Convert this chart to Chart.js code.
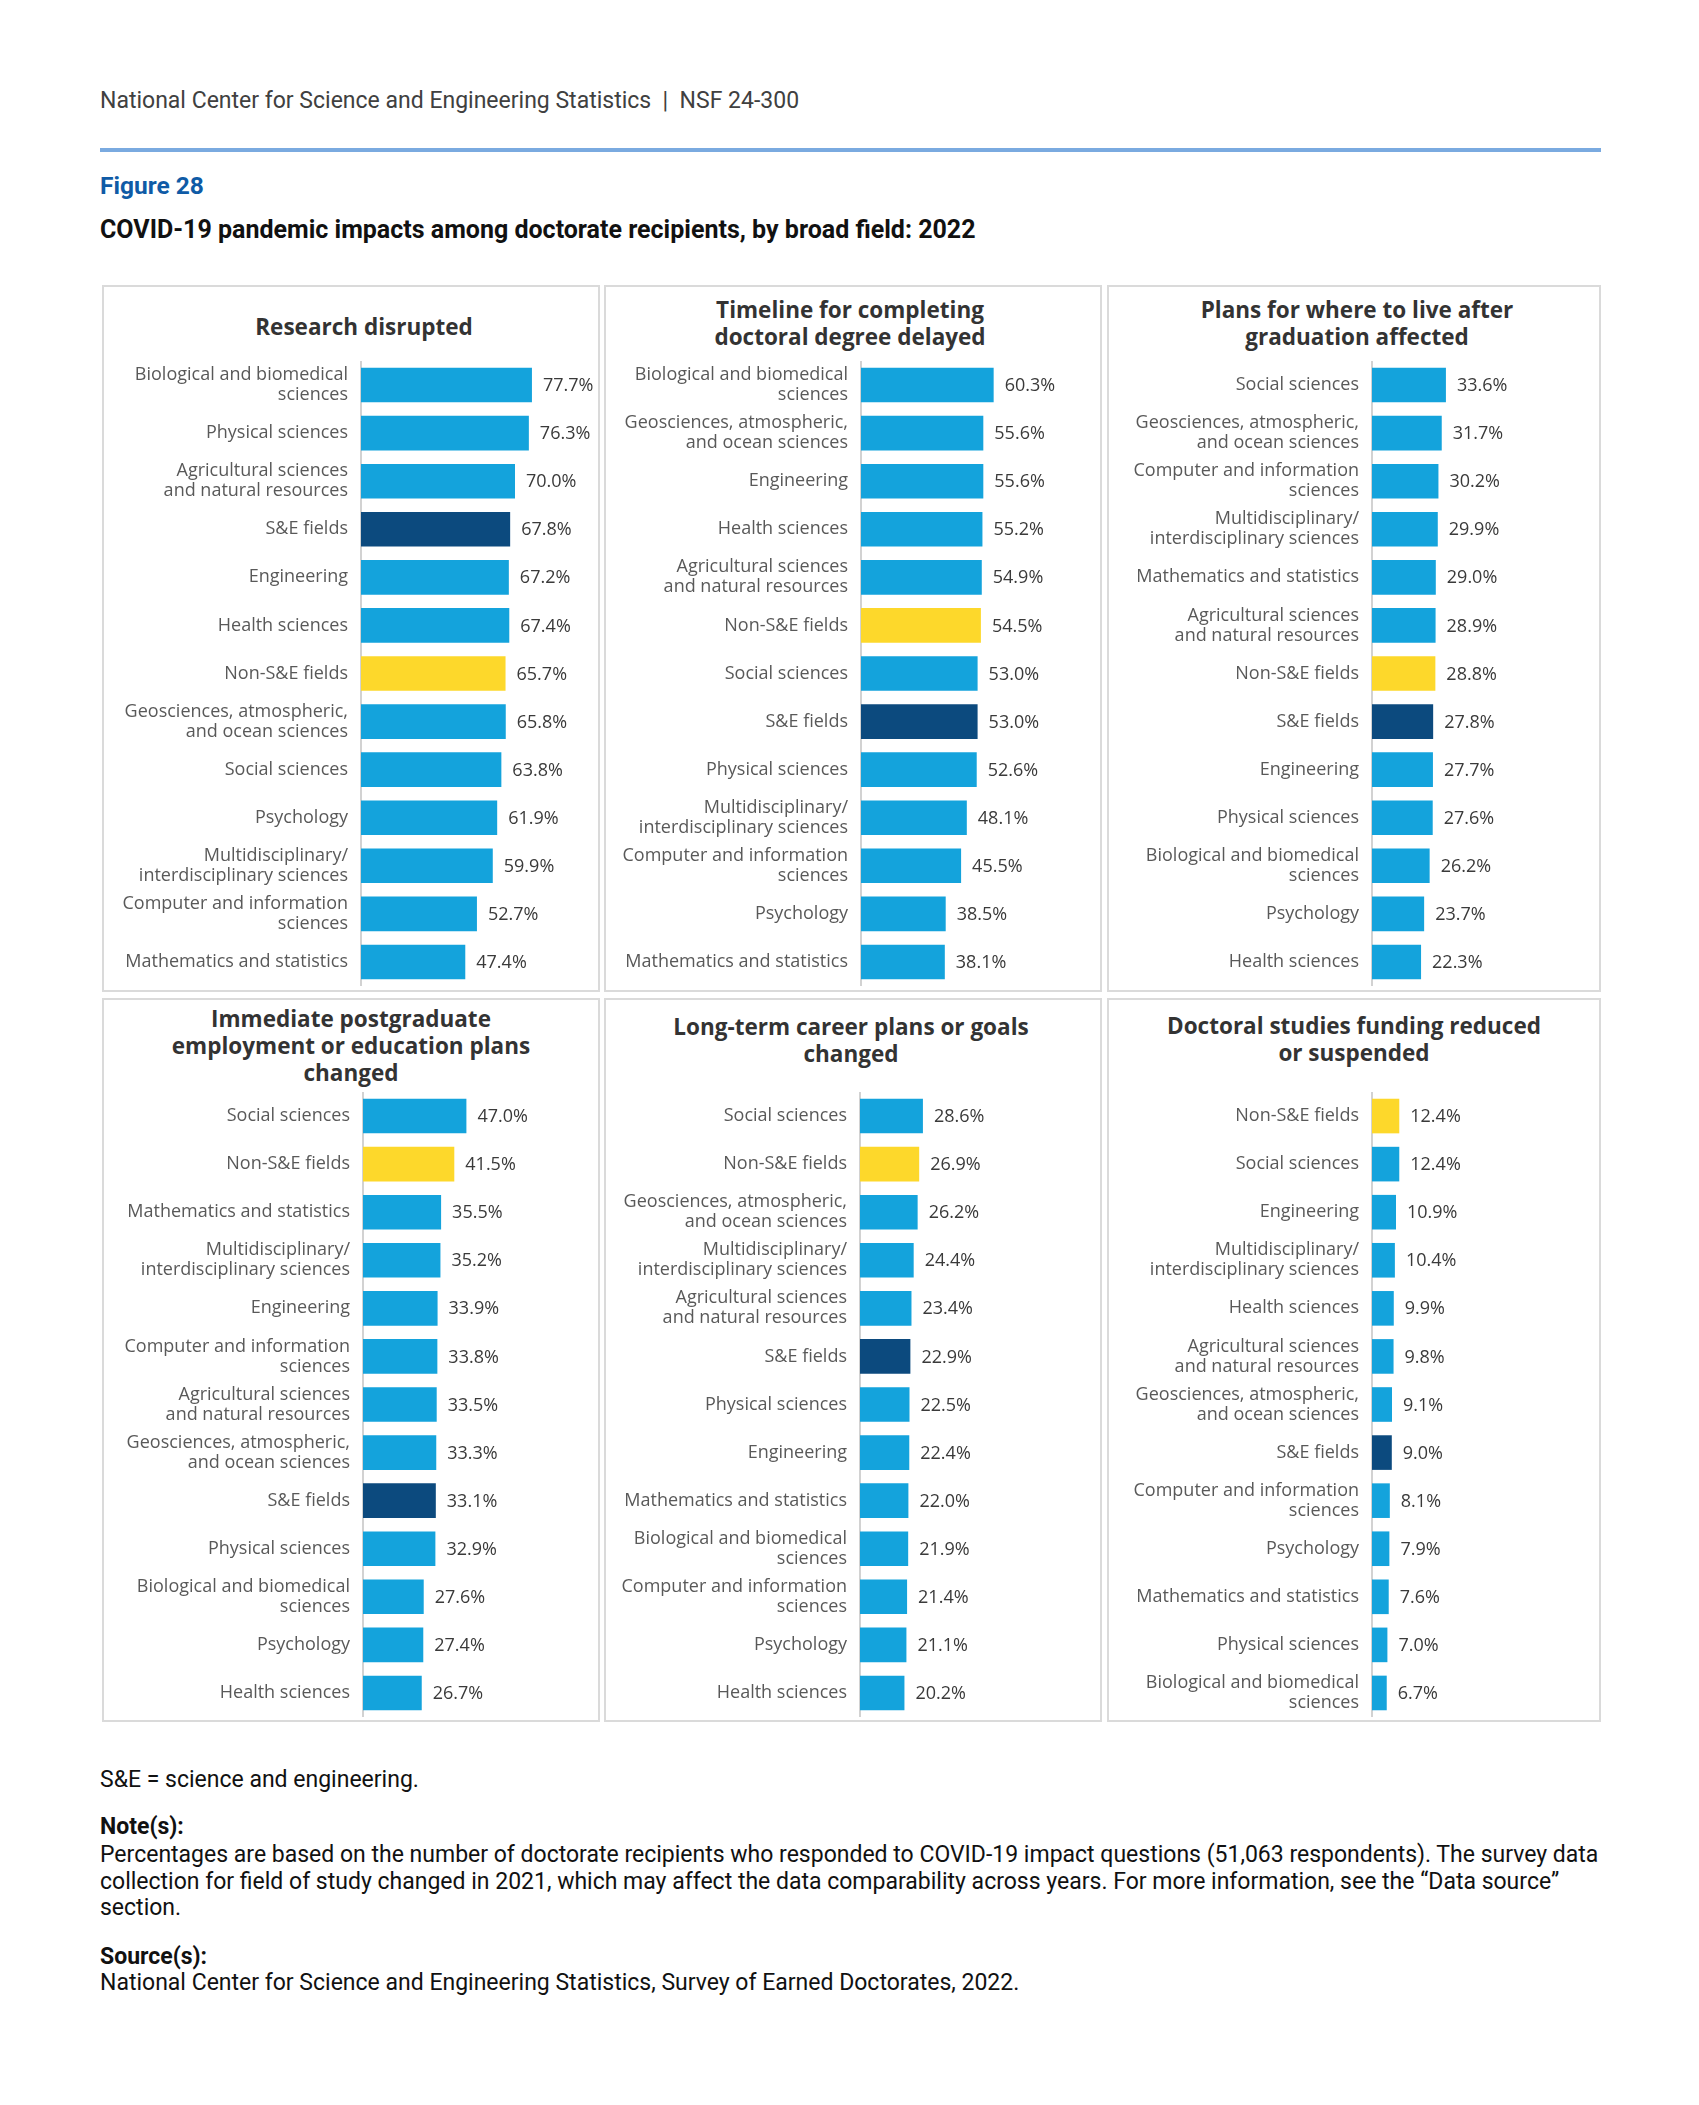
<!DOCTYPE html>
<html>
<head>
<meta charset="utf-8">
<title>Figure 28</title>
<script src="https://cdn.jsdelivr.net/npm/chart.js@4.4.1/dist/chart.umd.min.js"></script>
<style>
    body { margin: 0; background: #fff; width: 1699px; height: 2105px; position: relative; font-family: Roboto, sans-serif; }
    .abs { position: absolute; }
    .header { left: 100px; top: 88px; font-size: 23px; line-height: 26px; color: #404040; white-space: nowrap; }
    .rule { left: 100px; top: 148px; width: 1501px; height: 4px; background: #7aaae0; }
    .fig { left: 100px; top: 171px; font-size: 24.5px; line-height: 30px; font-weight: bold; color: #0f5ba6; }
    .title { left: 100px; top: 215px; font-size: 25px; line-height: 30px; font-weight: bold; color: #111; white-space: nowrap; }
    .panel { box-sizing: border-box; border: 2px solid #dadada; }
    .ptitle { width: 500px; font-family: 'Open Sans', sans-serif; font-weight: bold; font-size: 22.5px; line-height: 27px; color: #333; text-align: center; white-space: nowrap; }
    canvas { position: absolute; }
    .foot { left: 100px; font-size: 23px; line-height: 26.5px; color: #111; white-space: nowrap; }
    .foot b { font-weight: bold; }
</style>
</head>
<body>

<div class="abs header">National Center for Science and Engineering Statistics &nbsp;|&nbsp; NSF 24-300</div>
<div class="abs rule"></div>
<div class="abs fig">Figure 28</div>
<div class="abs title">COVID-19 pandemic impacts among doctorate recipients, by broad field: 2022</div>

<div class="abs panel" style="left:102px; top:285px; width:498px; height:707px;"></div>
<div class="abs panel" style="left:604px; top:285px; width:498px; height:707px;"></div>
<div class="abs panel" style="left:1107px; top:285px; width:494px; height:707px;"></div>
<div class="abs panel" style="left:102px; top:998px; width:498px; height:724px;"></div>
<div class="abs panel" style="left:604px; top:998px; width:498px; height:724px;"></div>
<div class="abs panel" style="left:1107px; top:998px; width:494px; height:724px;"></div>

<div class="abs ptitle" style="left:114px; top:313px;">Research disrupted</div>
<div class="abs ptitle" style="left:600px; top:296px;">Timeline for completing<br>doctoral degree delayed</div>
<div class="abs ptitle" style="left:1107px; top:296px;">Plans for where to live after<br>graduation affected</div>
<div class="abs ptitle" style="left:101px; top:1005px;">Immediate postgraduate<br>employment or education plans<br>changed</div>
<div class="abs ptitle" style="left:601px; top:1013px;">Long-term career plans or goals<br>changed</div>
<div class="abs ptitle" style="left:1104px; top:1012px;">Doctoral studies funding reduced<br>or suspended</div>

<canvas id="chart1" width="490" height="625" style="left:106px; top:361px;"></canvas>
<canvas id="chart2" width="490" height="625" style="left:608px; top:361px;"></canvas>
<canvas id="chart3" width="486" height="625" style="left:1111px; top:361px;"></canvas>
<canvas id="chart4" width="490" height="625" style="left:106px; top:1092px;"></canvas>
<canvas id="chart5" width="490" height="625" style="left:608px; top:1092px;"></canvas>
<canvas id="chart6" width="486" height="625" style="left:1111px; top:1092px;"></canvas>

<div class="abs foot" style="top:1767px;">S&amp;E = science and engineering.</div>
<div class="abs foot" style="top:1814px;"><b>Note(s):</b></div>
<div class="abs foot" style="top:1842px;">Percentages are based on the number of doctorate recipients who responded to COVID-19 impact questions (51,063 respondents). The survey data<br>collection for field of study changed in 2021, which may affect the data comparability across years. For more information, see the “Data source”<br>section.</div>
<div class="abs foot" style="top:1944px;"><b>Source(s):</b></div>
<div class="abs foot" style="top:1970px;">National Center for Science and Engineering Statistics, Survey of Earned Doctorates, 2022.</div>

<script>
// labels use \n where the original breaks the line
const researchFields = ['Biological and biomedical\nsciences', 'Physical sciences', 'Agricultural sciences\nand natural resources', 'S&E fields', 'Engineering', 'Health sciences', 'Non-S&E fields', 'Geosciences, atmospheric,\nand ocean sciences', 'Social sciences', 'Psychology', 'Multidisciplinary/\ninterdisciplinary sciences', 'Computer and information\nsciences', 'Mathematics and statistics'];
const researchValues = [77.7, 76.3, 70.0, 67.8, 67.2, 67.4, 65.7, 65.8, 63.8, 61.9, 59.9, 52.7, 47.4];

const timelineFields = ['Biological and biomedical\nsciences', 'Geosciences, atmospheric,\nand ocean sciences', 'Engineering', 'Health sciences', 'Agricultural sciences\nand natural resources', 'Non-S&E fields', 'Social sciences', 'S&E fields', 'Physical sciences', 'Multidisciplinary/\ninterdisciplinary sciences', 'Computer and information\nsciences', 'Psychology', 'Mathematics and statistics'];
const timelineValues = [60.3, 55.6, 55.6, 55.2, 54.9, 54.5, 53.0, 53.0, 52.6, 48.1, 45.5, 38.5, 38.1];

const liveFields = ['Social sciences', 'Geosciences, atmospheric,\nand ocean sciences', 'Computer and information\nsciences', 'Multidisciplinary/\ninterdisciplinary sciences', 'Mathematics and statistics', 'Agricultural sciences\nand natural resources', 'Non-S&E fields', 'S&E fields', 'Engineering', 'Physical sciences', 'Biological and biomedical\nsciences', 'Psychology', 'Health sciences'];
const liveValues = [33.6, 31.7, 30.2, 29.9, 29.0, 28.9, 28.8, 27.8, 27.7, 27.6, 26.2, 23.7, 22.3];

const plansFields = ['Social sciences', 'Non-S&E fields', 'Mathematics and statistics', 'Multidisciplinary/\ninterdisciplinary sciences', 'Engineering', 'Computer and information\nsciences', 'Agricultural sciences\nand natural resources', 'Geosciences, atmospheric,\nand ocean sciences', 'S&E fields', 'Physical sciences', 'Biological and biomedical\nsciences', 'Psychology', 'Health sciences'];
const plansValues = [47.0, 41.5, 35.5, 35.2, 33.9, 33.8, 33.5, 33.3, 33.1, 32.9, 27.6, 27.4, 26.7];

const careerFields = ['Social sciences', 'Non-S&E fields', 'Geosciences, atmospheric,\nand ocean sciences', 'Multidisciplinary/\ninterdisciplinary sciences', 'Agricultural sciences\nand natural resources', 'S&E fields', 'Physical sciences', 'Engineering', 'Mathematics and statistics', 'Biological and biomedical\nsciences', 'Computer and information\nsciences', 'Psychology', 'Health sciences'];
const careerValues = [28.6, 26.9, 26.2, 24.4, 23.4, 22.9, 22.5, 22.4, 22.0, 21.9, 21.4, 21.1, 20.2];

const fundingFields = ['Non-S&E fields', 'Social sciences', 'Engineering', 'Multidisciplinary/\ninterdisciplinary sciences', 'Health sciences', 'Agricultural sciences\nand natural resources', 'Geosciences, atmospheric,\nand ocean sciences', 'S&E fields', 'Computer and information\nsciences', 'Psychology', 'Mathematics and statistics', 'Physical sciences', 'Biological and biomedical\nsciences'];
const fundingValues = [12.4, 12.4, 10.9, 10.4, 9.9, 9.8, 9.1, 9.0, 8.1, 7.9, 7.6, 7.0, 6.7];

const BLUE = '#14a3dc';
const NAVY = '#0c4a7e';
const YELLOW = '#fdd82b';

function barColor(field) {
    if (field === 'S&E fields') return NAVY;
    if (field === 'Non-S&E fields') return YELLOW;
    return BLUE;
}

const valueLabels = {
    id: 'valueLabels',
    afterDatasetsDraw(chart) {
        const ctx = chart.ctx;
        const values = chart.data.datasets[0].data;
        ctx.save();
        ctx.font = '18px "Open Sans"';
        ctx.fillStyle = '#3a3a3a';
        ctx.textBaseline = 'middle';
        chart.getDatasetMeta(0).data.forEach((bar, i) => {
            ctx.fillText(values[i].toFixed(1) + '%', bar.x + 11, bar.y + 1);
        });
        ctx.restore();
    }
};

function drawPanel(id, fields, values, axisX) {
    const canvas = document.getElementById(id);
    const left = parseFloat(canvas.style.left);
    const axisWidth = axisX - left;
    const plotWidth = 220; // 0-100 %

    new Chart(canvas, {
        type: 'bar',
        data: {
            labels: fields.map(f => f.split('\n')),
            datasets: [{
                data: values,
                backgroundColor: fields.map(barColor),
                barPercentage: 0.72,
                categoryPercentage: 1,
            }]
        },
        options: {
            indexAxis: 'y',
            responsive: false,
            animation: false,
            devicePixelRatio: 1,
            layout: { padding: { left: 0, top: 0, bottom: 0, right: canvas.width - axisWidth - plotWidth } },
            plugins: {
                legend: { display: false },
                tooltip: { enabled: false }
            },
            scales: {
                x: { display: false, min: 0, max: 100 },
                y: {
                    grid: { display: false, drawTicks: false },
                    border: { display: true, color: '#d2d2d2', width: 2 },
                    ticks: {
                        autoSkip: false,
                        padding: 13,
                        color: '#595959',
                        font: { family: 'Open Sans', size: 18, lineHeight: 1.111 }
                    },
                    afterFit: scale => {
                        scale.width = axisWidth;
                        scale.paddingTop = 0;
                        scale.paddingBottom = 0;
                    }
                }
            }
        },
        plugins: [valueLabels]
    });
}

window.onload = function() {
    drawPanel('chart1', researchFields, researchValues, 361);
    drawPanel('chart2', timelineFields, timelineValues, 861);
    drawPanel('chart3', liveFields, liveValues, 1372);
    drawPanel('chart4', plansFields, plansValues, 363);
    drawPanel('chart5', careerFields, careerValues, 860);
    drawPanel('chart6', fundingFields, fundingValues, 1372);
};
</script>
</body>
</html>
